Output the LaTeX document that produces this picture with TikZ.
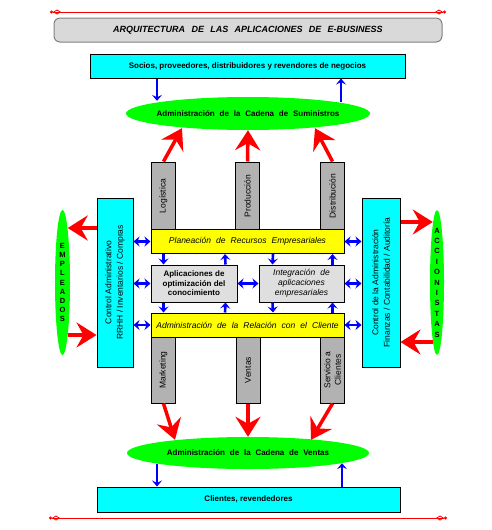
\documentclass[tikz,border=0pt]{standalone}
\usepackage{fontspec}
\setmainfont{Liberation Sans}
\usetikzlibrary{arrows.meta, shapes.geometric}

\definecolor{cyn}{RGB}{0,255,255}
\definecolor{lime}{RGB}{0,255,0}
\definecolor{yel}{RGB}{255,255,0}

\begin{document}
\begin{tikzpicture}[x=1pt,y=-1pt,
   box/.style={draw,line width=1pt,inner sep=1pt,align=center},
   wsp/.style={execute at begin node={\spaceskip=#1 plus 0.1em\relax}},
   wsp/.default=0.6em,
   bf/.style={font=\fontsize{8}{9.5}\selectfont\bfseries},
   rg/.style={font=\fontsize{8.5}{10.5}\selectfont},
   it/.style={font=\fontsize{8.5}{10}\selectfont\itshape,wsp},
   blu/.style={draw=blue,line width=2.6pt,-{Stealth[length=6pt,width=10pt,inset=2.5pt]}},
   dbl/.style={draw=blue,line width=2.6pt,{Stealth[length=6pt,width=10pt,inset=2pt]}-{Stealth[length=6pt,width=10pt,inset=2pt]}},
   rarr/.style={draw=red,line width=3.5pt,-{Stealth[length=20pt,width=25pt,inset=7pt]}},
   deco/.style={draw=red,line width=0.8pt,{Circle[length=3pt]Diamond[open,length=8pt,width=5pt]}-{Diamond[open,length=8pt,width=5pt]Circle[length=3pt]}}]

   \useasboundingbox (0,0) rectangle (492,530);

   % Nodes
      \node[box,rounded corners=6pt,draw=gray,fill=gray!30,minimum width=388pt,minimum height=24pt,
            font=\fontsize{9}{10}\selectfont\bfseries\itshape,wsp=0.7em] (titl) at (248,30) {ARQUITECTURA DE LAS APLICACIONES DE E-BUSINESS};
      \node[box,fill=cyn,minimum width=315pt,minimum height=24pt,bf]      (soc)   at (247.5,66)  {Socios, proveedores, distribuidores y revendores de negocios};
      \node[ellipse,fill=lime,minimum width=244pt,minimum height=33pt,
            label={[bf,wsp]center:Administración de la Cadena de Suministros}] (sum) at (248,113.5) {};

      \node[box,fill=gray!60,rotate=90,minimum width=68pt,minimum height=24pt,rg] (log)  at (163.5,196) {Logística};
      \node[box,fill=gray!60,rotate=90,minimum width=68pt,minimum height=24pt,rg] (prod) at (247.5,196) {Producción};
      \node[box,fill=gray!60,rotate=90,minimum width=68pt,minimum height=24pt,rg] (dist) at (332.5,196) {Distribución};
      \node[box,fill=gray!60,rotate=90,minimum width=66pt,minimum height=24pt,rg] (mkt)  at (163.5,370) {Marketing};
      \node[box,fill=gray!60,rotate=90,minimum width=66pt,minimum height=24pt,rg] (vta)  at (248,370)   {Ventas};
      \node[box,fill=gray!60,rotate=90,minimum width=66pt,minimum height=24pt,rg] (serv) at (332.5,370) {Servicio a\\Clientes};

      \node[box,fill=cyn,rotate=90,minimum width=169pt,minimum height=36pt,font=\fontsize{8.5}{11.5}\selectfont] (rrhh) at (115,282.5)
            {Control Administrativo\\RRHH / Inventarios / Compras};
      \node[box,fill=cyn,rotate=90,minimum width=169pt,minimum height=38pt,font=\fontsize{8.5}{11.5}\selectfont] (fin)  at (381,282.5)
            {Control de la Administración\\Finanzas / Contabilidad / Auditoría};

      \node[ellipse,fill=lime,minimum width=15pt,minimum height=145pt,
            label={[align=center,font=\fontsize{7.5}{9.2}\selectfont\bfseries]center:E\\M\\P\\L\\E\\A\\D\\O\\S}] (emp) at (62.5,282.5) {};
      \node[ellipse,fill=lime,minimum width=14pt,minimum height=145pt,
            label={[align=center,font=\fontsize{7.5}{10.4}\selectfont\bfseries]center:A\\C\\C\\I\\O\\N\\I\\S\\T\\A\\S}] (acc) at (437,282.5) {};

      \node[box,fill=yel,minimum width=193pt,minimum height=24pt,it]      (plan)  at (247.5,241.5) {Planeación de Recursos Empresariales};
      \node[box,fill=gray!25,minimum width=86pt,minimum height=37pt,bf]   (apl)   at (194,283.5)   {Aplicaciones de\\optimización del\\conocimiento};
      \node[box,fill=gray!25,minimum width=85pt,minimum height=37pt,it]   (integ) at (301.5,283.5) {Integración de\\aplicaciones\\empresariales};
      \node[box,fill=yel,minimum width=193pt,minimum height=24pt,it]      (arc)   at (247.5,325)   {Administración de la Relación con el Cliente};

      \node[ellipse,fill=lime,minimum width=242pt,minimum height=32pt,
            label={[bf,wsp]center:Administración de la Cadena de Ventas}] (ven) at (248,453) {};
      \node[box,fill=cyn,minimum width=303pt,minimum height=25pt,bf]      (cli)   at (248.5,499.5) {Clientes, revendedores};

   % Frame lines
      \draw[deco] (50,12) -- (446,12);
      \draw[deco] (49,518) -- (447,518);

   % Paths
      \path ([xshift=-90.5pt]soc.south) edge[blu] ([xshift=-91pt,yshift=-4pt]sum.north)
            ([xshift=93pt,yshift=-5pt]sum.north) edge[blu] ([xshift=93.5pt]soc.south);
      \path (log.east)  edge[rarr] ([xshift=-66pt,yshift=2pt]sum.south)
            (prod.east) edge[rarr] (sum.south)
            (dist.east) edge[rarr] ([xshift=67pt,yshift=2pt]sum.south);
      \path (rrhh.south |- plan)  edge[dbl] (plan.west)
            (rrhh.south |- apl)   edge[dbl] (apl.west)
            (rrhh.south |- arc)   edge[dbl] (arc.west)
            (plan.east)           edge[dbl] (fin.north |- plan)
            (integ.east)          edge[dbl] (fin.north |- integ)
            (arc.east)            edge[dbl] (fin.north |- arc)
            (apl.east)            edge[dbl] (integ.west);
      \path (plan.south -| log)             edge[blu] (apl.north -| log)
            ([xshift=-12pt]apl.north east)  edge[blu] ([xshift=-22.5pt]plan.south)
            ([xshift=25.5pt]plan.south)     edge[blu] ([xshift=14pt]integ.north west)
            (integ.north -| dist)           edge[blu] (plan.south -| dist)
            (apl.south -| log)              edge[blu] (arc.north -| log)
            ([xshift=-22.5pt]arc.north)     edge[blu] ([xshift=-12pt]apl.south east)
            ([xshift=14pt]integ.south west) edge[blu] ([xshift=25.5pt]arc.north)
            (arc.north -| dist)             edge[blu] (integ.south -| dist);
      \path ([yshift=54.5pt]rrhh.north) edge[rarr] ([xshift=-2.5pt,yshift=54.5pt]emp.east)
            ([xshift=-2.5pt,yshift=-52.5pt]emp.east) edge[rarr] ([yshift=-52.5pt]rrhh.north)
            ([yshift=60.5pt]fin.south) edge[rarr] ([xshift=3pt,yshift=60.5pt]acc.west)
            ([xshift=3pt,yshift=-59.5pt]acc.west) edge[rarr] ([yshift=-59.5pt]fin.south);
      \path (mkt.west)  edge[rarr] ([xshift=-73pt,yshift=-3pt]ven.north)
            (vta.west)  edge[rarr] (ven.north)
            (serv.west) edge[rarr] ([xshift=63pt,yshift=-3pt]ven.north);
      \path ([xshift=-91pt,yshift=5pt]ven.south) edge[blu] ([xshift=-91.5pt]cli.north)
            ([xshift=93.5pt]cli.north) edge[blu] ([xshift=94pt,yshift=6pt]ven.south);
\end{tikzpicture}
\end{document}
